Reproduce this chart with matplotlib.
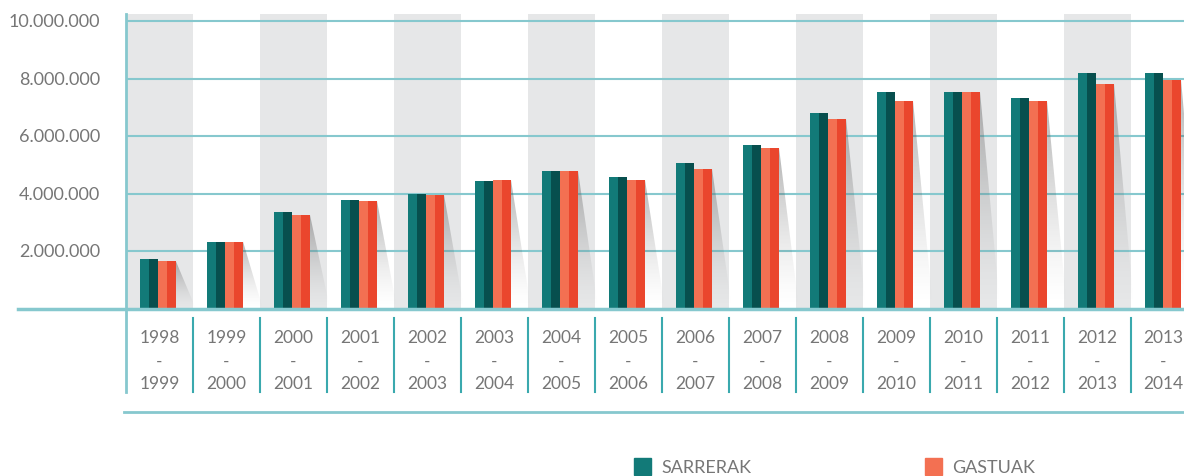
import matplotlib.pyplot as plt
import numpy as np
from matplotlib.patches import Polygon, Rectangle
from matplotlib.lines import Line2D

plt.rcParams['font.family'] = ['Lato', 'DejaVu Sans']

# years per budget period and the two series (euros)
start_years = [1998, 1999, 2000, 2001, 2002, 2003, 2004, 2005,
               2006, 2007, 2008, 2009, 2010, 2011, 2012, 2013]
sarrerak = [1750000, 2340000, 3370000, 3780000, 4000000, 4440000, 4790000, 4580000,
            5070000, 5690000, 6800000, 7530000, 7530000, 7330000, 8190000, 8190000]
gastuak = [1650000, 2340000, 3260000, 3750000, 3960000, 4480000, 4790000, 4480000,
           4860000, 5590000, 6600000, 7220000, 7530000, 7220000, 7810000, 7950000]
yticks = [2000000, 4000000, 6000000, 8000000, 10000000]

W, H = 1184, 477
fig = plt.figure(figsize=(W / 100, H / 100), dpi=100)
ax = fig.add_axes([126 / W, 167 / H, 1058 / W, 295 / H])
for s in ax.spines.values():
    s.set_visible(False)
ax.set_xticks([])
ax.set_yticks([])

grid_c = '#86c8ce'
teal_l, teal_d = '#127a78', '#074f4e'
red_l, red_d = '#f37052', '#ea462d'
txt_c = '#767676'

# alternating grey bands
for i in range(0, len(start_years), 2):
    ax.add_patch(Rectangle((i - 0.5, 0), 1, 10.243e6, color='#e6e7e8', lw=0, zorder=0))

for v in yticks:
    ax.axhline(v, color=grid_c, lw=1.5, zorder=1)
    ax.text(-0.89, v, f'{v:,}'.replace(',', '.'), ha='right', va='center',
            fontsize=13, color=txt_c, clip_on=False)

px = 1 / 67.0
sub = 9 * px
x0 = -0.5 + 14 * px
x = np.arange(len(start_years))

grad = np.zeros((100, 1, 4))
grad[:, 0, :3] = 0.35
grad[:, 0, 3] = np.linspace(0.0, 0.6, 100) ** 1.5

for i in x:
    left = i + x0
    ax.bar(left, sarrerak[i], width=sub, align='edge', color=teal_l, lw=0, zorder=3)
    ax.bar(left + sub, sarrerak[i], width=sub, align='edge', color=teal_d, lw=0, zorder=3)
    ax.bar(left + 2 * sub, gastuak[i], width=sub, align='edge', color=red_l, lw=0, zorder=3)
    ax.bar(left + 3 * sub, gastuak[i], width=sub, align='edge', color=red_d, lw=0, zorder=3)
    # soft shadow behind the bar pair
    xr = left + 4 * sub
    top = gastuak[i]
    sw = 20 * px
    tri = Polygon([(xr, top), (xr + sw, 0), (xr, 0)], closed=True,
                  transform=ax.transData)
    im = ax.imshow(grad, extent=(xr, xr + sw, 0, top), origin='lower',
                   aspect='auto', zorder=2, interpolation='bilinear')
    im.set_clip_path(tri)

ax.set_xlim(-0.5, 15.29)
ax.set_ylim(0, 10.243e6)

def fy(ypx):
    return 1 - ypx / H

def fx(xpx):
    return xpx / W

# axis lines
fig.add_artist(Line2D([fx(18), 1], [fy(310), fy(310)], color=grid_c, lw=2.5, zorder=5))
fig.add_artist(Line2D([fx(126), fx(126)], [fy(15), fy(393)], color=grid_c, lw=2, zorder=5))
fig.add_artist(Line2D([fx(124), 1], [fy(413), fy(413)], color=grid_c, lw=2))

# period labels and dividers
for i in x:
    cx = min(126 + (i + 0.5) * 67, 1163)
    for ypx, t in [(338, str(start_years[i])), (362, '-'), (384, str(start_years[i] + 1))]:
        fig.text(fx(cx), fy(ypx), t, ha='center', va='center', fontsize=12.5, color=txt_c)
    if i > 0:
        dx = fx(126 + i * 67)
        fig.add_artist(Line2D([dx, dx], [fy(319), fy(393)], color='#3aa9ae', lw=1.5))

# legend
for sx, col, lab in [(634, teal_l, 'SARRERAK'), (925, red_l, 'GASTUAK')]:
    fig.add_artist(Rectangle((fx(sx), fy(476)), 17 / W, 17 / H, color=col,
                             transform=fig.transFigure))
    fig.text(fx(sx + 27), fy(468), lab, ha='left', va='center', fontsize=13, color=txt_c)

fig.savefig('out.png', dpi=100)
